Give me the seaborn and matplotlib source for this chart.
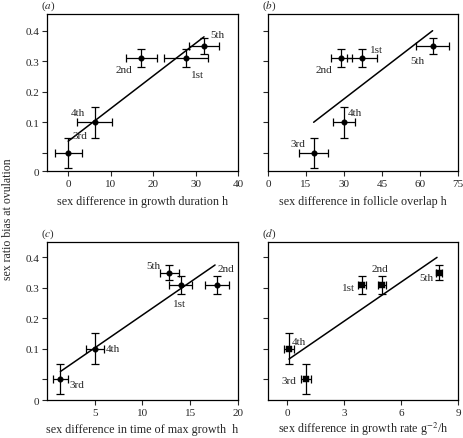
import matplotlib
matplotlib.use("Agg")
import matplotlib.pyplot as plt
import seaborn as sns
import pandas as pd

# data (order: 1st, 2nd, 3rd, 4th, 5th)
ranks = ["1st", "2nd", "3rd", "4th", "5th"]
ratio_bias = [0.31, 0.31, 0.0, 0.1, 0.35]
ratio_err = [0.03, 0.03, 0.05, 0.05, 0.025]

a_x = [27.8, 17.2, 0.0, 6.2, 32.0]
a_xerr = [5.2, 3.7, 3.2, 4.2, 3.5]
a_fit_x = [0.0, 32.0]
a_fit_y = [0.038, 0.38]

b_x = [37.0, 29.0, 18.0, 30.0, 65.0]
b_xerr = [6.0, 4.0, 5.8, 4.3, 6.5]
b_fit_x = [18.0, 65.0]
b_fit_y = [0.10, 0.40]

c_x = [14.0, 17.8, 1.4, 5.0, 12.8]
c_xerr = [1.2, 1.3, 0.8, 0.95, 1.0]
c_fit_x = [1.4, 17.6]
c_fit_y = [0.025, 0.375]

d_x = [3.95, 5.0, 1.0, 0.1, 8.0]
d_xerr = [0.2, 0.2, 0.25, 0.25, 0.15]
d_fit_x = [0.1, 7.9]
d_fit_y = [0.066, 0.40]

a_xticks = [0, 10, 20, 30, 40]
b_xticks = [0, 15, 30, 45, 60, 75]
c_xticks = [5, 10, 15, 20]
d_xticks = [0, 3, 6, 9]

sns.set_style("ticks")
plt.rcParams['font.family'] = ['Liberation Serif', 'DejaVu Serif']
plt.rcParams['mathtext.fontset'] = 'stix'
plt.rcParams['font.size'] = 8

fig = plt.figure(figsize=(4.63, 4.39), dpi=100)

panels = [
    dict(tag="a", x=a_x, xerr=a_xerr, fx=a_fit_x, fy=a_fit_y, xlim=(-5, 40), xt=a_xticks,
         xlabel="sex difference in growth duration h", pos=[0.1015, 0.608, 0.4125, 0.358],
         ylim=(-0.06, 0.455), left=True, lpad=5,
         offs=[(8, -12), (-12.7, -8.2), (8.4, 12.5), (-12.2, 6.8), (9.9, 8.6)]),
    dict(tag="b", x=b_x, xerr=b_xerr, fx=b_fit_x, fy=b_fit_y, xlim=(0, 75), xt=b_xticks,
         xlabel="sex difference in follicle overlap h", pos=[0.579, 0.608, 0.410, 0.358],
         ylim=(-0.06, 0.455), left=False, lpad=5,
         offs=[(10.3, 6), (-12.6, -8.2), (-11, 6.7), (7.8, 7), (-10.9, -10.8)]),
    dict(tag="c", x=c_x, xerr=c_xerr, fx=c_fit_x, fy=c_fit_y, xlim=(0, 20), xt=c_xticks,
         xlabel="sex difference in time of max growth  h", pos=[0.1015, 0.0855, 0.4125, 0.362],
         ylim=(-0.07, 0.452), left=True, lpad=4,
         offs=[(-0.9, -13.7), (6.3, 11.8), (12.2, -3.6), (13.2, 0), (-11.2, 5)]),
    dict(tag="d", x=d_x, xerr=d_xerr, fx=d_fit_x, fy=d_fit_y, xlim=(-1, 9), xt=d_xticks,
         xlabel="sex difference in growth rate g$^{-2}$/h", pos=[0.579, 0.0855, 0.410, 0.362],
         ylim=(-0.07, 0.452), left=False, lpad=2,
         offs=[(-10, -1.9), (-1.4, 11.5), (-12.5, -0.8), (7, 5.3), (-9, -3.2)]),
]

for p in panels:
    ax = fig.add_axes(p["pos"])
    df = pd.DataFrame({"x": p["x"], "y": ratio_bias, "rank": ranks})
    fit = pd.DataFrame({"x": p["fx"], "y": p["fy"]})
    sns.lineplot(data=fit, x="x", y="y", ax=ax, color="black", lw=1.1)
    ax.errorbar(p["x"], ratio_bias, xerr=p["xerr"], yerr=ratio_err, fmt="none",
                ecolor="black", elinewidth=0.9, capsize=3, capthick=0.9)
    sns.scatterplot(data=df, x="x", y="y", ax=ax, color="black", s=16,
                    marker="s" if p["tag"] == "d" else "o", edgecolor="black", zorder=5)
    for xi, yi, lab, off in zip(p["x"], ratio_bias, ranks, p["offs"]):
        ax.annotate(lab, (xi, yi), xytext=off, textcoords="offset points",
                    ha="center", va="center", fontsize=8)
    ax.set_xlim(*p["xlim"])
    ax.set_ylim(*p["ylim"])
    ax.set_xticks(p["xt"])
    ax.set_xticklabels([str(t) for t in p["xt"]])
    if p["left"]:
        ax.set_yticks([p["ylim"][0], 0.0, 0.1, 0.2, 0.3, 0.4])
        ax.set_yticklabels(["0", "", "0.1", "0.2", "0.3", "0.4"])
    else:
        ax.set_yticks([0.0, 0.1, 0.2, 0.3, 0.4])
        ax.set_yticklabels([])
    ax.tick_params(direction="out", length=3.5, width=0.8, labelsize=8, pad=2)
    for s in ax.spines.values():
        s.set_linewidth(0.9)
        s.set_color("black")
    ax.set_xlabel(p["xlabel"], fontsize=8.7, labelpad=p["lpad"])
    ax.set_ylabel("")
    ax.text(-0.03, 1.01, "($\\it{%s}$)" % p["tag"], transform=ax.transAxes,
            fontsize=8, ha="left", va="bottom")

fig.text(0.018, 0.5, "sex ratio bias at ovulation", rotation=90,
         ha="center", va="center", fontsize=8.5)

fig.savefig("out.png", dpi=100)
